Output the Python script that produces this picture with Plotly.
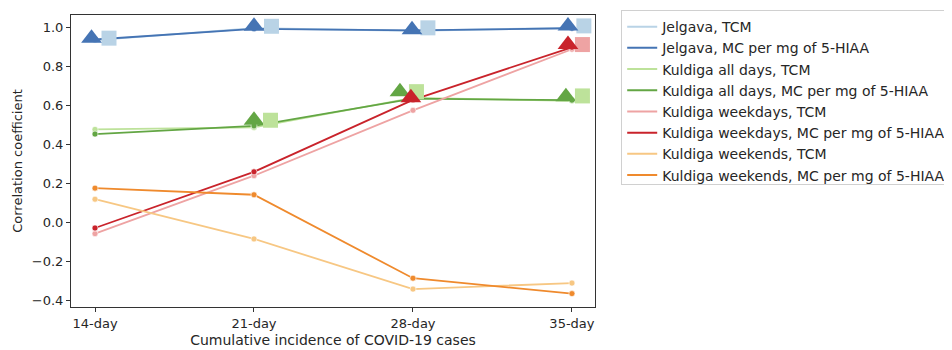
import plotly.graph_objects as go

# ---- data ----
categories = ["14-day", "21-day", "28-day", "35-day"]

series_names = [
    "Jelgava, TCM",
    "Jelgava, MC per mg of 5-HIAA",
    "Kuldiga all days, TCM",
    "Kuldiga all days, MC per mg of 5-HIAA",
    "Kuldiga weekdays, TCM",
    "Kuldiga weekdays, MC per mg of 5-HIAA",
    "Kuldiga weekends, TCM",
    "Kuldiga weekends, MC per mg of 5-HIAA",
]

jelgava_tcm = [0.937, 0.998, 0.985, 1.0]
jelgava_mc = [0.940, 0.995, 0.987, 0.998]
kuldiga_all_tcm = [0.478, 0.488, 0.640, 0.625]
kuldiga_all_mc = [0.454, 0.496, 0.636, 0.628]
kuldiga_weekdays_tcm = [-0.058, 0.240, 0.576, 0.890]
kuldiga_weekdays_mc = [-0.029, 0.260, 0.630, 0.900]
kuldiga_weekends_tcm = [0.119, -0.085, -0.343, -0.312]
kuldiga_weekends_mc = [0.176, 0.142, -0.287, -0.366]

series_values = [
    jelgava_tcm, jelgava_mc,
    kuldiga_all_tcm, kuldiga_all_mc,
    kuldiga_weekdays_tcm, kuldiga_weekdays_mc,
    kuldiga_weekends_tcm, kuldiga_weekends_mc,
]

# highlighted points (large markers): category index and value
jelgava_tcm_sq_idx = [0, 1, 2, 3]
jelgava_tcm_sq_val = [0.947, 1.008, 1.0, 1.01]
jelgava_mc_tri_idx = [0, 1, 2, 3]
jelgava_mc_tri_val = [0.947, 1.008, 0.99, 1.01]
kuldiga_all_tcm_sq_idx = [1, 2, 3]
kuldiga_all_tcm_sq_val = [0.525, 0.672, 0.65]
kuldiga_all_mc_tri_idx = [1, 2, 3]
kuldiga_all_mc_tri_val = [0.525, 0.672, 0.646]
kuldiga_weekdays_tcm_sq_idx = [3]
kuldiga_weekdays_tcm_sq_val = [0.914]
kuldiga_weekdays_mc_tri_idx = [2, 3]
kuldiga_weekdays_mc_tri_val = [0.64, 0.914]

# ---- styles ----
colors = [
    "#b9d3e6", "#4574b4",
    "#bde29a", "#63a644",
    "#eea3a3", "#c9232b",
    "#f7c783", "#ef8a2d",
]
sq_offsets = {0: [0.088, 0.11, 0.094, 0.075], 2: [0.104, 0.022, 0.066], 4: [0.066]}
tri_offsets = {1: [-0.022, 0.0, -0.006, -0.025], 3: [0.0, -0.082, -0.038], 5: [-0.013, -0.025]}

FONT = "DejaVu Sans"
fig = go.Figure()

x_idx = list(range(len(categories)))

# lines with small dots
for name, vals, col in zip(series_names, series_values, colors):
    fig.add_trace(go.Scatter(
        x=x_idx, y=vals, mode="lines+markers", name=name,
        line=dict(color=col, width=1.8),
        marker=dict(size=6, color=col, line=dict(color="white", width=0.6)),
        showlegend=False, hoverinfo="skip",
    ))

# big markers
marker_sets = [
    (0, "square", jelgava_tcm_sq_idx, jelgava_tcm_sq_val),
    (1, "triangle-up", jelgava_mc_tri_idx, jelgava_mc_tri_val),
    (3, "triangle-up", kuldiga_all_mc_tri_idx, kuldiga_all_mc_tri_val),
    (2, "square", kuldiga_all_tcm_sq_idx, kuldiga_all_tcm_sq_val),
    (4, "square", kuldiga_weekdays_tcm_sq_idx, kuldiga_weekdays_tcm_sq_val),
    (5, "triangle-up", kuldiga_weekdays_mc_tri_idx, kuldiga_weekdays_mc_tri_val),
]
for si, sym, idxs, vals in marker_sets:
    offs = sq_offsets[si] if sym == "square" else tri_offsets[si]
    xs = [i + o for i, o in zip(idxs, offs)]
    fig.add_trace(go.Scatter(
        x=xs, y=vals, mode="markers", showlegend=False, hoverinfo="skip",
        marker=dict(symbol=sym, size=15 if sym == "square" else 18,
                    color=colors[si], line=dict(width=0)),
    ))

# legend entries (lines only)
for name, col in zip(series_names, colors):
    fig.add_trace(go.Scatter(
        x=[None], y=[None], mode="lines", name=name,
        line=dict(color=col, width=2),
    ))

axis_common = dict(
    showline=True, mirror=True, linecolor="#333333", linewidth=1,
    ticks="outside", ticklen=4, tickcolor="#333333",
    showgrid=False, zeroline=False,
    tickfont=dict(family=FONT, size=13, color="#262626"),
)

# the page body has an 8px default margin; plot area compensated accordingly
fig.update_layout(
    width=952, height=350,
    margin=dict(l=63, r=365, t=2, b=51),
    paper_bgcolor="white", plot_bgcolor="white",
    font=dict(family=FONT, size=13, color="#262626"),
    xaxis=dict(
        **axis_common,
        range=[-0.151, 3.145],
        tickmode="array", tickvals=x_idx, ticktext=categories,
        title=dict(text="Cumulative incidence of COVID-19 cases",
                   font=dict(family=FONT, size=14), standoff=5),
    ),
    yaxis=dict(
        **axis_common,
        range=[-0.435, 1.066],
        tickmode="array",
        tickvals=[-0.4, -0.2, 0.0, 0.2, 0.4, 0.6, 0.8, 1.0],
        ticktext=["\u22120.4", "\u22120.2", "0.0", "0.2", "0.4", "0.6", "0.8", "1.0"],
        title=dict(text="Correlation coefficient",
                   font=dict(family=FONT, size=13), standoff=6),
    ),
    legend=dict(
        x=1.05, y=1.017, xanchor="left", yanchor="top",
        bordercolor="#d0d0d0", borderwidth=1, bgcolor="white",
        font=dict(family=FONT, size=14, color="#262626"),
        tracegroupgap=0, itemwidth=30,
    ),
)

fig.write_html("out.html")
